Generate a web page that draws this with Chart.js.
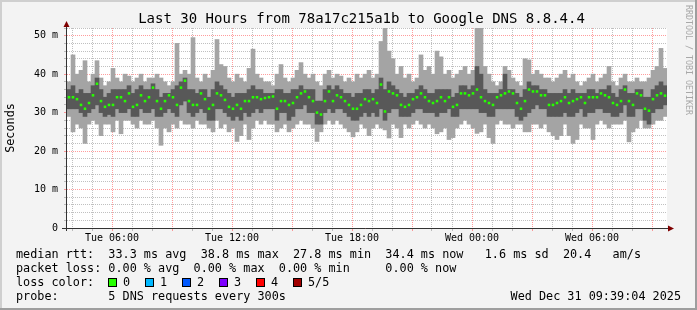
<!DOCTYPE html>
<html>
<head>
<meta charset="utf-8">
<script src="https://cdn.jsdelivr.net/npm/chart.js@4.4.1/dist/chart.umd.min.js"></script>
<style>
  html, body { margin: 0; padding: 0; background: #f3f3f3; }
  canvas { display: block; }
</style>
</head>
<body>
<canvas id="myChart" width="697" height="310"></canvas>
<script>

// smoke: 5 sorted pings per column, one column = 12 minutes, 150 columns over 30 h
var pingMax = [
  38, 45, 40, 41, 43.5,  38, 40, 43.5, 39, 37,  38, 41.5, 39, 38, 40,  39.5, 38, 39, 40, 38,
  39, 39, 40, 39, 38,  37, 38, 48, 40, 41,  40, 49.5, 39, 38, 40,  39, 41, 49, 42.5, 42,
  39, 38, 40, 39, 38,  41.5, 46.5, 40, 39, 38,  38, 37, 40, 42.5, 39,  38, 39, 41, 43, 40,
  39, 40, 38, 37, 40,  41, 39, 40, 39.5, 38,  39, 38, 40, 39, 40,  41, 39, 40, 48.5, 52,
  46, 44, 40, 42, 39,  40, 38, 39, 45, 41,  42, 40, 46, 44.5, 40,  41, 39, 40, 41, 42,
  40, 41, 52.5, 52.5, 42,  40, 38, 37, 38, 42,  41, 39, 38, 37, 44,  43.7, 40, 41, 40, 39,
  39, 38, 39, 40, 41,  39, 40, 38, 37, 38,  39, 40, 38, 39, 40,  42, 38, 37, 39, 40,
  38, 38, 39, 38, 38,  39, 41, 42, 46.7, 41.5
];
var pingHigh = [
  36, 37, 35, 36, 35,  35, 37, 39, 36, 34,  35, 36, 36, 36, 36,  37, 35, 36, 37, 36,
  36, 37.5, 36, 34, 35,  35, 36, 37, 38, 39,  36, 36, 35, 36, 36,  34, 36, 38, 37, 36,
  35, 34, 35, 35, 35,  36, 37, 36, 36, 35,  35, 35, 36, 36, 35,  35, 36, 36, 37, 36,
  36, 36, 33, 33, 36,  37, 36, 37, 36, 35,  35, 34, 35, 35, 36,  36, 35, 36, 39, 36,
  38, 37, 36, 35, 34,  35, 35, 36, 37, 36,  35, 35, 36, 36, 36,  36, 34, 35, 37, 37,
  36, 37, 42, 40, 36,  35, 35, 35, 36, 40,  36, 36, 35, 34, 36,  38, 37, 37, 36, 36,
  35, 35, 35, 35, 36,  35, 36, 35, 35, 35,  36, 36, 35, 36, 36,  37, 35, 34, 36, 37,
  35, 35, 36, 36, 34,  34, 36, 37, 38, 37
];
var pingMedian = [
  34, 34, 33.5, 32, 31,  32.5, 34.5, 37.5, 33, 31.5,  32, 32, 34, 34, 33,  35, 31.5, 32, 34.5, 33,
  34, 36.5, 33, 31, 33,  34.5, 34, 32, 36.5, 38.3,  33, 32, 32, 35, 33.5,  31, 32, 35, 34.5, 33.3,
  31.5, 31, 32, 31, 33,  33, 34, 34, 33.5, 33.8,  34, 34.2, 31, 33, 33,  32, 32.5, 34, 35, 35.5,
  34, 33, 30, 29.5, 33,  35.5, 33, 34.5, 34, 33,  32, 31, 31, 32, 33.5,  33, 33.5, 32.5, 37.3, 30.3,
  35.5, 35, 34.5, 32, 31.5,  32, 33.5, 34, 35, 34,  33, 32.5, 33, 34, 33,  34, 31.5, 32, 35, 35,
  34.5, 35, 36, 34, 33,  32.5, 32, 34, 34.5, 35,  35.5, 35, 32.5, 31, 33,  36, 35.5, 35.5, 34.5, 34.5,
  32, 32, 32.5, 33, 34,  32.5, 33, 33.5, 34, 32.5,  34, 34, 34, 35, 34.5,  34, 32.5, 32, 33, 36,
  33, 32, 35, 34.5, 31,  30.5, 33.5, 34.5, 35, 34.4
];
var pingLow = [
  31, 31, 31, 30, 29,  30, 31, 32, 30, 29,  29.5, 29, 31, 30, 30,  31, 29, 29, 31, 30,
  30, 31, 29, 29, 30,  31, 30, 29, 32, 33,  30, 29, 30, 31, 30,  28, 28, 31, 31, 30,
  29, 28, 29, 28, 30,  29, 30, 31, 30, 31,  31, 31, 28, 30, 30,  28, 29, 31, 31, 32,
  30, 30, 27, 27, 30,  31, 30, 31, 31, 30,  29, 28, 28, 29, 30,  29, 30, 29, 31, 28,
  30, 31, 31, 29, 29,  29, 30, 31, 31, 30,  30, 30, 29, 30, 30,  31, 29, 29, 31, 31,
  31, 31, 31, 30, 30,  29, 29, 31, 31, 31,  31, 31, 29, 28, 29,  30, 31, 32, 31, 31,
  29, 29, 29, 29, 30,  29, 29, 30, 31, 29,  30, 30, 31, 31, 30,  30, 29, 29, 30, 32,
  29, 29, 31, 31, 28,  27, 30, 31, 31, 32
];
var pingMin = [
  29, 25, 27, 26, 22,  27, 28, 27, 24, 27,  27, 25, 28, 24.5, 28,  28, 27, 26, 28, 27,
  27, 28, 26, 21.5, 26,  25, 27, 26, 28, 27,  27, 26, 28, 27, 27,  26, 25, 28, 26, 27,
  25, 26, 22.5, 24, 27,  23, 26, 28, 27, 28,  27, 27, 25, 26, 27,  25, 26, 27, 28, 27,
  27, 26, 22.5, 25, 27,  28, 27, 28, 27, 26,  25, 23.7, 25, 27, 26,  24, 26, 27, 26, 25.5,
  23.4, 27, 26, 23.5, 27,  26, 27, 28, 27, 26,  27, 26, 24.5, 25, 26,  23, 23.5, 26, 27, 28,
  27, 26, 24.6, 25, 27,  23.5, 22, 27, 28, 27,  27, 26, 27, 27, 25,  25, 27, 27, 26, 27,
  25, 24, 23, 24, 27,  24, 22, 23, 27, 26,  26, 23, 27, 28, 27,  26, 27, 27, 27, 28,
  22.4, 25, 26, 28, 26,  26, 27, 28, 28, 29
];

// hours after Tue 03:45
var tickHours = [2.25, 8.25, 14.25, 20.25, 26.25];
var tickLabels = ['Tue 06:00', 'Tue 12:00', 'Tue 18:00', 'Wed 00:00', 'Wed 06:00'];
var yLabels = ['0', '10 m', '20 m', '30 m', '40 m', '50 m'];

var lossNames = ['0', '1', '2', '3', '4', '5/5'];
var lossColors = ['#26ff00', '#00b8ff', '#0059ff', '#7e00ff', '#ff0000', '#a10000'];

var stepHours = 0.2;

function ranges(lo, hi) {
  var out = [];
  for (var i = 0; i < lo.length; i++) {
    out.push({ x: (i + 0.5) * stepHours, y: [lo[i], hi[i]] });
  }
  return out;
}
function dots(vals) {
  var out = [];
  for (var i = 0; i < vals.length; i++) {
    out.push({ x: (i + 0.5) * stepHours, y: vals[i] });
  }
  return out;
}

var MONO = '"DejaVu Sans Mono", monospace';
var minorGrid = 'rgba(140,140,140,0.55)';
var majorGrid = 'rgba(255,90,90,0.6)';

function xGridColor(c) {
  if (!c.tick) return minorGrid;
  var r = (c.tick.value - 2.25) / 3;
  return Math.abs(r - Math.round(r)) < 0.001 ? majorGrid : minorGrid;
}
function yGridColor(c) {
  if (!c.tick) return minorGrid;
  return c.tick.value % 10 === 0 ? majorGrid : minorGrid;
}

var decor = {
  id: 'decor',
  beforeDraw: function (chart) {
    var ctx = chart.ctx, a = chart.chartArea;
    ctx.save();
    ctx.fillStyle = '#f3f3f3';
    ctx.fillRect(0, 0, chart.width, chart.height);
    // frame
    ctx.fillStyle = '#cfcfcf';
    ctx.fillRect(0, 0, chart.width, 2);
    ctx.fillRect(0, 0, 2, chart.height);
    ctx.fillStyle = '#9e9e9e';
    ctx.fillRect(0, chart.height - 2, chart.width, 2);
    ctx.fillRect(chart.width - 2, 0, 2, chart.height);
    ctx.fillStyle = '#ffffff';
    ctx.fillRect(a.left, a.top, a.right - a.left, a.bottom - a.top);
    ctx.restore();
  },
  afterDraw: function (chart) {
    var ctx = chart.ctx, a = chart.chartArea;
    ctx.save();

    // axes
    ctx.strokeStyle = '#333333';
    ctx.lineWidth = 1;
    ctx.beginPath();
    ctx.moveTo(62, a.bottom + 0.5);
    ctx.lineTo(669, a.bottom + 0.5);
    ctx.moveTo(a.left - 0.5, a.bottom + 3);
    ctx.lineTo(a.left - 0.5, 24);
    ctx.stroke();
    ctx.fillStyle = '#7f0000';
    ctx.beginPath();
    ctx.moveTo(668, a.bottom - 2.5);
    ctx.lineTo(674, a.bottom + 0.5);
    ctx.lineTo(668, a.bottom + 3.5);
    ctx.closePath();
    ctx.fill();
    ctx.beginPath();
    ctx.moveTo(a.left - 3.5, 27);
    ctx.lineTo(a.left - 0.5, 21);
    ctx.lineTo(a.left + 2.5, 27);
    ctx.closePath();
    ctx.fill();

    // title
    ctx.fillStyle = '#000000';
    ctx.textBaseline = 'middle';
    ctx.textAlign = 'center';
    ctx.font = '14px ' + MONO;
    ctx.fillText('Last 30 Hours from 78a17c215a1b to Google DNS 8.8.4.4', 361.5, 19);

    // y title
    ctx.save();
    ctx.translate(11, (a.top + a.bottom) / 2);
    ctx.rotate(-Math.PI / 2);
    ctx.font = '11.8px ' + MONO;
    ctx.fillText('Seconds', 0, 0);
    ctx.restore();

    // watermark
    ctx.save();
    ctx.translate(688, 5);
    ctx.rotate(Math.PI / 2);
    ctx.textAlign = 'left';
    ctx.fillStyle = '#a8a8a8';
    ctx.font = '8.3px ' + MONO;
    ctx.fillText('RRDTOOL / TOBI OETIKER', 0, 0);
    ctx.restore();

    // legend
    ctx.textAlign = 'left';
    ctx.fillStyle = '#000000';
    ctx.font = '11.8px ' + MONO;
    ctx.fillText('median rtt:  33.3 ms avg  38.8 ms max  27.8 ms min  34.4 ms now   1.6 ms sd  20.4   am/s', 16, 254.5);
    ctx.fillText('packet loss: 0.00 % avg  0.00 % max  0.00 % min     0.00 % now', 16, 268.5);
    ctx.fillText('loss color:', 16, 282.5);
    ctx.fillText('probe:       5 DNS requests every 300s', 16, 296.5);
    for (var i = 0; i < lossNames.length; i++) {
      var bx = 109 + 37 * i;
      ctx.fillStyle = lossColors[i];
      ctx.fillRect(bx, 279, 7, 7);
      ctx.strokeStyle = '#000000';
      ctx.strokeRect(bx - 0.5, 278.5, 8, 8);
      ctx.fillStyle = '#000000';
      ctx.fillText(lossNames[i], bx + 14, 282.5);
    }
    ctx.textAlign = 'right';
    ctx.fillText('Wed Dec 31 09:39:04 2025', 681, 296.5);

    ctx.restore();
  }
};

var ctx = document.getElementById('myChart').getContext('2d');

var myChart = new Chart(ctx, {
  type: 'bar',
  data: {
    datasets: [
      {
        type: 'scatter',
        data: dots(pingMedian),
        pointStyle: 'rect',
        pointRadius: 1.8,
        pointBorderWidth: 0,
        backgroundColor: '#26ff00',
        borderColor: '#26ff00',
        order: 0
      },
      {
        data: ranges(pingLow, pingHigh),
        backgroundColor: '#585858',
        borderWidth: 0,
        grouped: false,
        barPercentage: 1,
        categoryPercentage: 1,
        order: 1
      },
      {
        data: ranges(pingMin, pingMax),
        backgroundColor: '#a4a4a4',
        borderWidth: 0,
        grouped: false,
        barPercentage: 1,
        categoryPercentage: 1,
        order: 2
      }
    ]
  },
  options: {
    responsive: false,
    animation: false,
    devicePixelRatio: 1,
    layout: { padding: { top: 28, right: 30, bottom: 0, left: 0 } },
    plugins: { legend: { display: false }, tooltip: { enabled: false } },
    scales: {
      x: {
        type: 'linear',
        min: 0,
        max: 30,
        offset: false,
        afterBuildTicks: function (axis) {
          var t = [];
          for (var h = 0.25; h < 30; h += 1) t.push({ value: h });
          axis.ticks = t;
        },
        afterFit: function (axis) { axis.height = 82; },
        grid: { offset: false, color: xGridColor, tickColor: xGridColor, tickLength: 3, lineWidth: 1 },
        border: { display: false, dash: [1, 1] },
        ticks: {
          autoSkip: false,
          maxRotation: 0,
          padding: 1,
          color: '#000000',
          font: { family: 'DejaVu Sans Mono', size: 10 },
          callback: function (v) {
            var i = tickHours.indexOf(v);
            return i < 0 ? '' : tickLabels[i];
          }
        }
      },
      y: {
        min: 0,
        max: 52,
        afterBuildTicks: function (axis) {
          var t = [];
          for (var v = 0; v <= 52; v += 2) t.push({ value: v });
          axis.ticks = t;
        },
        afterFit: function (axis) { axis.width = 67; },
        grid: { color: yGridColor, tickColor: yGridColor, tickLength: 3, lineWidth: 1 },
        border: { display: false, dash: [1, 1] },
        ticks: {
          autoSkip: false,
          padding: 6,
          color: '#000000',
          font: { family: 'DejaVu Sans Mono', size: 10 },
          callback: function (v) {
            return v % 10 === 0 ? yLabels[v / 10] : '';
          }
        }
      }
    }
  },
  plugins: [decor]
});
</script>
</body>
</html>
